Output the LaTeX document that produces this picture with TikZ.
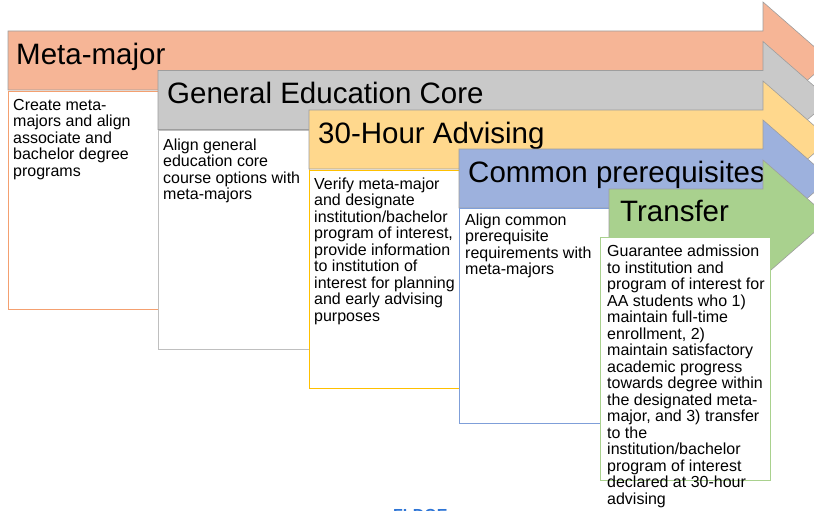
\documentclass[tikz,border=0pt]{standalone}
\usepackage{fontspec}
\setmainfont{Liberation Sans}
\definecolor{aSal}{HTML}{F6B596}
\definecolor{aGry}{HTML}{C9C9C9}
\definecolor{aYel}{HTML}{FFD88D}
\definecolor{aBlu}{HTML}{9DB1DD}
\definecolor{aGrn}{HTML}{A9D18E}
\definecolor{bSal}{HTML}{F4A070}
\definecolor{bGry}{HTML}{BFBFBF}
\definecolor{bYel}{HTML}{FFC000}
\definecolor{bBlu}{HTML}{7F9FD9}
\definecolor{bGrn}{HTML}{A9D18E}
\definecolor{logoblue}{HTML}{2E75D6}
\tikzset{
  arrowshape/.style={draw=black!38, line width=0.6pt},
  descbox/.style={fill=white, line width=1pt},
  titletext/.style={anchor=base west, inner sep=0pt, font=\fontsize{29.5}{33}\selectfont},
  bodytext/.style={anchor=north west, inner sep=0pt, align=left, font=\fontsize{16}{16.5}\selectfont},
}
\newcommand{\blockarrow}[4]{% left, top, fill, name
  \filldraw[arrowshape, fill=#3] (#1,#2) -- (763,#2) -- (763,#2-29) -- (830,#2+29.5) -- (763,#2+88) -- (763,#2+59) -- (#1,#2+59) -- cycle;
}
\begin{document}
\begin{tikzpicture}[x=1pt,y=-1pt]
\useasboundingbox (0,0) rectangle (814,511);
% 1 Meta-major
\blockarrow{8}{31}{aSal}{a1}
\node[titletext] (t1) at (16,64) {Meta-major};
\draw[descbox, draw=bSal] (8,91) rectangle (158,309);
\node[bodytext] (d1) at (13,99) {Create meta-\\majors and align\\associate and\\bachelor degree\\programs};
% 2 General Education Core
\blockarrow{158}{70.5}{aGry}{a2}
\node[titletext] (t2) at (167,103.5) {General Education Core};
\draw[descbox, draw=bGry] (158,130) rectangle (309,349);
\node[bodytext] (d2) at (163,138.4) {Align general\\education core\\course options with\\meta-majors};
% 3 30-Hour Advising
\blockarrow{309}{110}{aYel}{a3}
\node[titletext] (t3) at (318,143) {30-Hour Advising};
\draw[descbox, draw=bYel] (309,170) rectangle (459,388);
\node[bodytext] (d3) at (314,177.4) {Verify meta-major\\and designate\\institution/bachelor\\program of interest,\\provide information\\to institution of\\interest for planning\\and early advising\\purposes};
% 4 Common prerequisites
\blockarrow{459}{149}{aBlu}{a4}
\node[titletext] (t4) at (468,182) {Common prerequisites};
\draw[descbox, draw=bBlu] (459,208) rectangle (609,423);
\node[bodytext] (d4) at (465,213.4) {Align common\\prerequisite\\requirements with\\meta-majors};
% 5 Transfer
\blockarrow{609}{189}{aGrn}{a5}
\node[titletext] (t5) at (620,221.5) {Transfer};
\draw[descbox, draw=bGrn] (600,237) rectangle (770,480);
\node[bodytext] (d5) at (607,245.1) {Guarantee admission\\to institution and\\program of interest for\\AA students who 1)\\maintain full-time\\enrollment, 2)\\maintain satisfactory\\academic progress\\towards degree within\\the designated meta-\\major, and 3) transfer\\to the\\institution/bachelor\\program of interest\\declared at 30-hour\\advising};
% cut-off logo text (as in the reference, only its top shows)
\node[anchor=base west, inner sep=0pt, text=logoblue, font=\fontsize{16}{18}\selectfont\bfseries] (logo) at (393,520) {FLDOE};
\end{tikzpicture}
\end{document}
